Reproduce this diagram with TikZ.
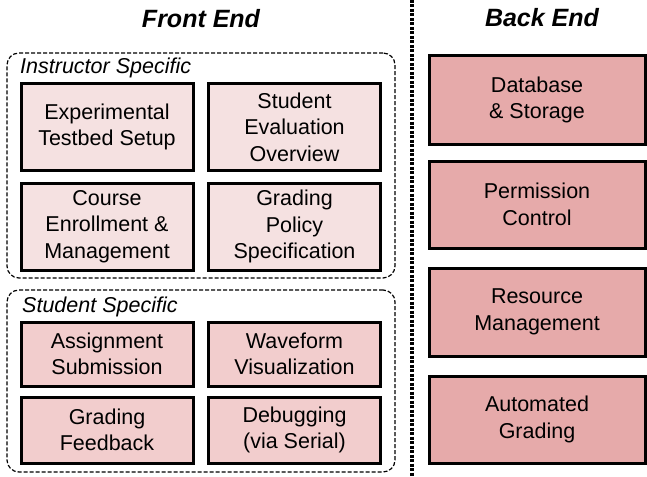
\documentclass[tikz,border=0pt]{standalone}
\usepackage{fontspec}
\setmainfont{Liberation Sans}
\definecolor{instfill}{RGB}{245,225,225}
\definecolor{studfill}{RGB}{242,205,205}
\definecolor{backfill}{RGB}{230,170,170}
\begin{document}
\begin{tikzpicture}[x=1pt,y=-1pt,
  boxtxt/.style={font=\fontsize{21.5}{26.6}\selectfont, align=center},
  fbox/.style={boxtxt, draw=black, line width=3pt, inner sep=0pt, outer sep=0pt},
  instbox/.style={fbox, fill=instfill, minimum width=172pt},
  studbox/.style={fbox, fill=studfill, minimum width=172pt},
  backbox/.style={fbox, fill=backfill, minimum width=216pt},
  group/.style={draw=black, line width=1.2pt, dash pattern=on 4pt off 2pt, rounded corners=12pt, inner sep=0pt, minimum width=388pt},
  grouplabel/.style={font=\fontsize{21.5}{26}\selectfont\itshape, anchor=base west, inner sep=0pt},
  title/.style={font=\fontsize{25}{30}\selectfont\bfseries\itshape, anchor=base, inner sep=0pt}]
\useasboundingbox (0,0) rectangle (647,476);
% titles
\node[title] (fe) at (201,28) {Front End};
\node[title] (be) at (542,27) {Back End};
% divider
\coordinate (dtop) at (412,0);
\coordinate (dbot) at (412,476);
\draw[line width=3.2pt, dash pattern=on 3pt off 1.5pt] (dtop) -- (dbot);
% groups
\node[group, minimum height=225pt] (inst) at (201,165.5) {};
\node[group, minimum height=182pt] (stud) at (201,381) {};
\node[grouplabel] (instl) at (20,74) {Instructor Specific};
\node[grouplabel] (studl) at (22,312) {Student Specific};
% instructor boxes
\node[instbox, minimum height=86pt] (i1) at (107,127) {Experimental\\Testbed Setup};
\node[instbox, minimum height=86pt] (i2) at (294.5,127) {Student\\Evaluation\\Overview};
\node[instbox, minimum height=87pt] (i3) at (107,226.5) {Course\\Enrollment \&\\Management};
\node[instbox, minimum height=87pt] (i4) at (294.5,226.5) {Grading\\Policy\\Specification};
% student boxes
\node[studbox, minimum height=64pt] (s1) at (107,354) {Assignment\\Submission};
\node[studbox, minimum height=64pt] (s2) at (294.5,354) {Waveform\\Visualization};
\node[studbox, minimum height=66pt] (s3) at (107,430) {Grading\\Feedback};
\node[studbox, minimum height=66pt] (s4) at (294.5,430) {Debugging\\(via Serial)};
% back end boxes
\node[backbox, minimum height=88pt] (b1) at (537,100) {Database\\\& Storage};
\node[backbox, minimum height=87pt] (b2) at (537,204.5) {Permission\\Control};
\node[backbox, minimum height=88pt] (b3) at (537,312) {Resource\\Management};
\node[backbox, minimum height=87pt] (b4) at (537,419.5) {Automated\\Grading};
\end{tikzpicture}
\end{document}
